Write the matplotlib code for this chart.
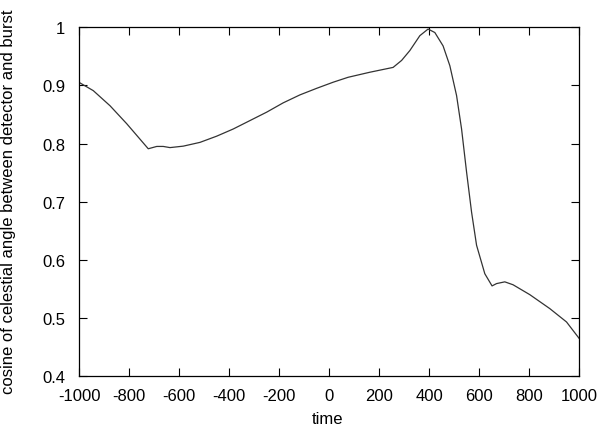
import matplotlib
matplotlib.use("Agg")
import matplotlib.pyplot as plt

time = [-1000, -944, -877, -810, -724, -690, -664, -637, -584, -517, -450, -384,
        -317, -250, -184, -117, -50, 16, 76, 163, 256, 290, 323, 363, 396,
        423, 456, 483, 510, 530, 550, 570, 590, 623, 652, 670, 703, 736, 803,
        883, 950, 1000]
cosine = [0.905, 0.891, 0.865, 0.834, 0.791, 0.795, 0.795, 0.793, 0.7955, 0.802,
          0.8127, 0.825, 0.8395, 0.854, 0.870, 0.8837, 0.895, 0.9055, 0.914,
          0.9227, 0.931, 0.943, 0.960, 0.9856, 0.997, 0.991, 0.968, 0.934, 0.8825,
          0.825, 0.751, 0.682, 0.625, 0.576, 0.555, 0.559, 0.562, 0.557, 0.540,
          0.516, 0.493, 0.465]

xticks = [-1000, -800, -600, -400, -200, 0, 200, 400, 600, 800, 1000]
yticks = [0.4, 0.5, 0.6, 0.7, 0.8, 0.9, 1.0]
ytick_labels = ["0.4", "0.5", "0.6", "0.7", "0.8", "0.9", "1"]

plt.rcParams['font.family'] = ['Liberation Sans', 'DejaVu Sans']
W, H = 600, 427
fig = plt.figure(figsize=(W / 100, H / 100), dpi=100)
left, right, top, bottom = 79.3, 579, 28.3, 377
ax = fig.add_axes([left / W, 1 - bottom / H, (right - left) / W, (bottom - top) / H])
ax.plot(time, cosine, color='#333333', lw=0.9)
ax.set_xlim(-1000, 1000)
ax.set_ylim(0.4, 1.0)
ax.set_xticks(xticks)
ax.set_xticklabels([str(t) for t in xticks])
ax.set_yticks(yticks)
ax.set_yticklabels(ytick_labels)
ax.tick_params(direction='in', length=6, width=0.8, top=True, right=True,
               labelsize=12, colors='black')
ax.tick_params(axis='x', pad=9)
ax.tick_params(axis='y', pad=10)
for s in ax.spines.values():
    s.set_linewidth(0.9)
fig.text(328 / W, 1 - 420 / H, 'time', ha='center', va='center', fontsize=12)
fig.text(9 / W, 1 - 202 / H, 'cosine of celestial angle between detector and burst',
         rotation=90, ha='center', va='center', fontsize=12)
fig.savefig('out.png', dpi=100)
